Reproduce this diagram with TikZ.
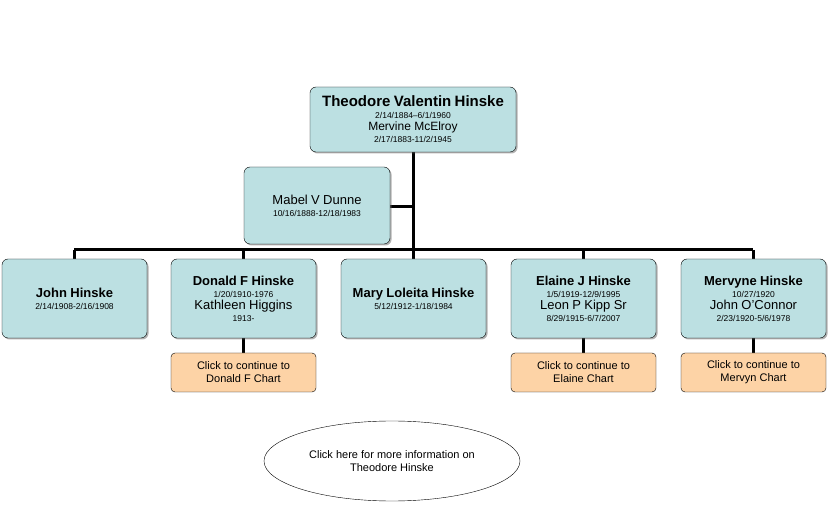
\documentclass[tikz,border=0pt]{standalone}
\usepackage{fontspec}
\setmainfont{Liberation Sans}
\usetikzlibrary{shadows,shapes.geometric}
\definecolor{boxblue}{HTML}{BCE0E2}
\definecolor{boxorange}{HTML}{FDD3A6}
\tikzset{
  person/.style={draw=black,fill=boxblue,rounded corners=6pt,align=center,
    inner sep=1pt,text width=138pt,minimum width=145pt,minimum height=79pt,
    drop shadow={shadow xshift=1.5pt,shadow yshift=-1.5pt,fill=black!60}},
  link/.style={draw=black,fill=boxorange,rounded corners=4pt,align=center,
    inner sep=1pt,minimum width=145pt,minimum height=39pt,font=\fontsize{11}{13}\selectfont},
  branch/.style={line width=3pt}
}
\newcommand{\nm}[1]{{\fontsize{13}{16}\selectfont\bfseries #1}\\}
\newcommand{\dt}[1]{{\fontsize{8.5}{11}\selectfont #1}\\}
\newcommand{\spouse}[1]{{\fontsize{13}{16}\selectfont #1}\\}
\begin{document}
\begin{tikzpicture}[x=1pt,y=-1pt]
\useasboundingbox (0,0) rectangle (828,521);
% connectors
\coordinate (bar l) at (74,250);
\coordinate (bar r) at (753,250);
\coordinate (bar m) at (413,250);
\coordinate (mab j) at (413,207);
\draw[branch] (bar l) -- (bar r);
\draw[branch] (413,152) -- (bar m);
\draw[branch] (390,207) -- (mab j);
\foreach \x in {74,243,413,583,753}
  \draw[branch] (\x,250) -- (\x,262);
\foreach \x in {243,583,753}
  \draw[branch] (\x,336) -- (\x,355);
% people
\node[person,minimum width=206pt,text width=200pt,minimum height=65pt] (theodore) at (413,119.5)
  {{\fontsize{15}{18}\selectfont\bfseries Theodore Valentin Hinske}\\ \dt{2/14/1884--6/1/1960}
   {\fontsize{12}{14}\selectfont Mervine McElroy}\\ \dt{2/17/1883-11/2/1945}};
\node[person,minimum width=146pt,minimum height=77pt] (mabel) at (317,205.5)
  {\spouse{Mabel V Dunne}\dt{10/16/1888-12/18/1983}};
\node[person] (john) at (74.5,298.5) {\nm{John Hinske}\dt{2/14/1908-2/16/1908}};
\node[person] (donald) at (243.5,298.5)
  {\nm{Donald F Hinske}\dt{1/20/1910-1976}\spouse{Kathleen Higgins}\dt{1913-}};
\node[person] (mary) at (413.5,298.5) {\nm{Mary Loleita Hinske}\dt{5/12/1912-1/18/1984}};
\node[person] (elaine) at (583.5,298.5)
  {\nm{Elaine J Hinske}\dt{1/5/1919-12/9/1995}\spouse{Leon P Kipp Sr}\dt{8/29/1915-6/7/2007}};
\node[person] (mervyne) at (753.5,298.5)
  {\nm{Mervyne Hinske}\dt{10/27/1920}\spouse{John O'Connor}\dt{2/23/1920-5/6/1978}};
% chart links
\node[link] (donald chart) at (243.5,372.5) {Click to continue to\\Donald F Chart};
\node[link] (elaine chart) at (583.5,372.5) {Click to continue to\\Elaine Chart};
\node[link] (mervyn chart) at (753.5,372.5) {Click to continue to\\Mervyn Chart};
% more info
\node[draw=black,fill=white,ellipse,minimum width=256pt,minimum height=80pt,align=center,
  font=\fontsize{11}{13}\selectfont] (info) at (392,461)
  {Click here for more information on\\Theodore Hinske};
\end{tikzpicture}
\end{document}
